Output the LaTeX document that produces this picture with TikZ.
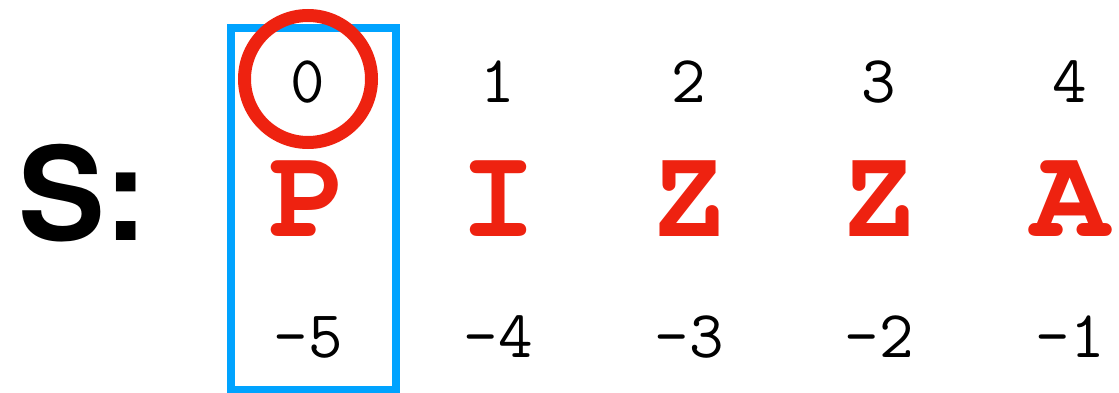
\documentclass[tikz,border=0pt]{standalone}
\usepackage[T1]{fontenc}
\usepackage{fontspec}
\setmonofont{Latin Modern Mono}
\newfontfamily\labelfont{TeX Gyre Heros}
\newcommand{\letterfont}{\fontencoding{T1}\fontfamily{pcr}\bfseries}
\definecolor{pizzared}{RGB}{238,34,16}
\definecolor{boxblue}{RGB}{0,163,255}
\tikzset{
  idx/.style={inner sep=0pt, anchor=base, font=\ttfamily\fontsize{67}{67}\selectfont, text=black},
  chr/.style={inner sep=0pt, anchor=base, font=\letterfont\fontsize{130}{130}\selectfont, text=pizzared},
  lbl/.style={inner sep=0pt, anchor=base west, font=\labelfont\bfseries\fontsize{130}{130}\selectfont, text=black},
  selbox/.style={draw=boxblue, line width=7.5pt},
  mark circle/.style={draw=pizzared, line width=13pt}
}
\begin{document}
\begin{tikzpicture}[x=1pt,y=-1pt]
\useasboundingbox (0,0) rectangle (1119,393);
% selection box and circle
\draw[selbox] (231,28) rectangle (396,389.5);
\draw[mark circle] (308,79) circle[radius=63.5];
% label
\node[lbl] (s) at (18,240) {S:};
% positive indices
\node[idx] (p0) at (308,103) {0};
\node[idx] (p1) at (498,103) {1};
\node[idx] (p2) at (689,103) {2};
\node[idx] (p3) at (879,103) {3};
\node[idx] (p4) at (1070,103) {4};
% characters
\node[chr] (c0) at (308,236) {P};
\node[chr] (c1) at (498,236) {I};
\node[chr] (c2) at (689,236) {Z};
\node[chr] (c3) at (879,236) {Z};
\node[chr] (c4) at (1070,236) {A};
% negative indices
\node[idx] (n0) at (308,357) {-5};
\node[idx] (n1) at (498,357) {-4};
\node[idx] (n2) at (689,357) {-3};
\node[idx] (n3) at (879,357) {-2};
\node[idx] (n4) at (1070,357) {-1};
\end{tikzpicture}
\end{document}
